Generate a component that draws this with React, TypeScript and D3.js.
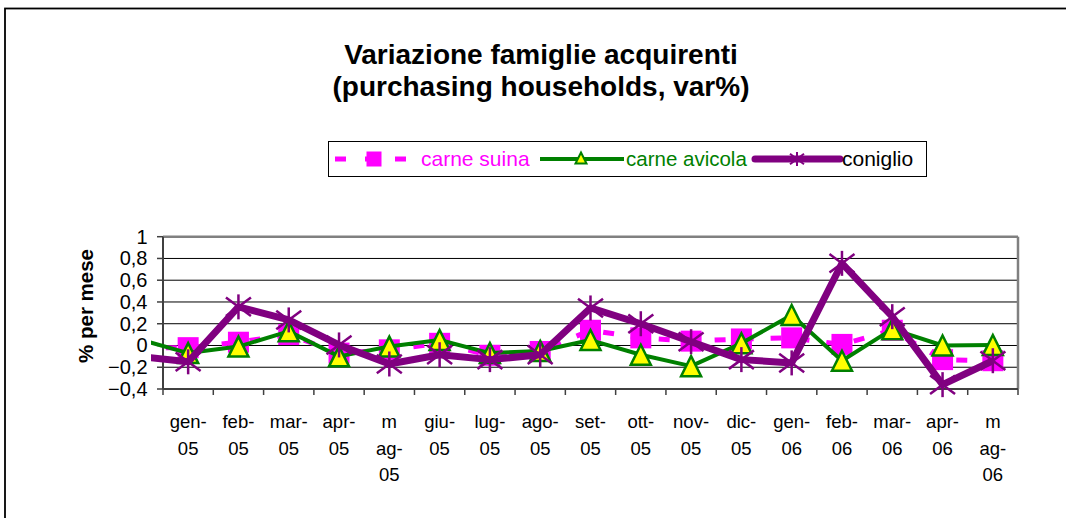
import * as d3 from "d3"

// months on the category axis
const categories = ["gen-05", "feb-05", "mar-05", "apr-05", "mag-05", "giu-05", "lug-05", "ago-05", "set-05", "ott-05", "nov-05", "dic-05", "gen-06", "feb-06", "mar-06", "apr-06", "mag-06"]
const tickLabels = [
    ["gen-", "05"], ["feb-", "05"], ["mar-", "05"], ["apr-", "05"], ["m", "ag-", "05"],
    ["giu-", "05"], ["lug-", "05"], ["ago-", "05"], ["set-", "05"], ["ott-", "05"],
    ["nov-", "05"], ["dic-", "05"], ["gen-", "06"], ["feb-", "06"], ["mar-", "06"],
    ["apr-", "06"], ["m", "ag-", "06"],
]

const yTicks = [1, 0.8, 0.6, 0.4, 0.2, 0, -0.2, -0.4]

const carneSuina = [-0.02, 0.03, 0.1, -0.07, -0.04, 0.02, -0.09, -0.055, 0.14, 0.07, 0.04, 0.06, 0.07, 0.01, 0.14, -0.13, -0.14]
const carneAvicola = [-0.07, -0.01, 0.13, -0.1, -0.01, 0.05, -0.07, -0.05, 0.05, -0.085, -0.19, 0.02, 0.28, -0.14, 0.15, 0.0, 0.005]
const coniglio = [-0.15, 0.355, 0.235, 0.005, -0.17, -0.085, -0.13, -0.085, 0.345, 0.2, 0.035, -0.13, -0.16, 0.755, 0.265, -0.36, -0.14]

// dic-04 values: only the segment leading in from the left edge is visible
const dic04 = [-0.02, 0.06, -0.1]

const seriesNames = ["carne suina", "carne avicola", "coniglio"]
const seriesValues = [carneSuina, carneAvicola, coniglio]

const W = 1066
const H = 518
const FONT = "'Liberation Sans', Arial, Helvetica, sans-serif"
const PINK = "#ff00ff"
const GREEN = "#008000"
const PURPLE = "#800080"
const YELLOW = "#ffff00"

const plot = { left: 163, right: 1018, top: 236.7, bottom: 389 }

const Square = ({ x, y, s }: { x: number; y: number; s: number }) => (
    <rect x={x - s / 2} y={y - s / 2} width={s} height={s} fill={PINK} />
)

const Triangle = ({ x, y, s, sw }: { x: number; y: number; s: number; sw: number }) => (
    <path
        d={`M${x},${y - s / 2}L${x + s / 2},${y + s / 2}L${x - s / 2},${y + s / 2}Z`}
        fill={YELLOW}
        stroke={GREEN}
        strokeWidth={sw}
        strokeLinejoin="miter"
    />
)

const Star = ({ x, y, s, sw }: { x: number; y: number; s: number; sw: number }) => (
    <g stroke={PURPLE} strokeWidth={sw}>
        <line x1={x} y1={y - s / 2} x2={x} y2={y + s / 2} />
        <line x1={x - s / 2} y1={y - s * 0.37} x2={x + s / 2} y2={y + s * 0.37} />
        <line x1={x - s / 2} y1={y + s * 0.37} x2={x + s / 2} y2={y - s * 0.37} />
    </g>
)

export default function App() {
    const x = d3.scaleBand<string>().domain(categories).range([plot.left, plot.right]).paddingInner(0).paddingOuter(0)
    const y = d3.scaleLinear().domain([-0.4, 1]).range([plot.bottom, plot.top])
    const cx = (i: number) => (i < 0 ? (x(categories[0]) as number) - x.step() / 2 : (x(categories[i]) as number) + x.bandwidth() / 2)

    const line = d3.line<[number, number]>().x((d) => d[0]).y((d) => d[1])
    const pts = (si: number): [number, number][] => [
        [cx(-1), y(dic04[si])],
        ...seriesValues[si].map((v, i) => [cx(i), y(v)] as [number, number]),
    ]

    const boundaries = [...categories.map((c) => x(c) as number), plot.right]

    return (
        <svg width={W} height={H} style={{ position: "absolute", left: 0, top: 0, background: "#fff" }} fontFamily={FONT}>
            <defs>
                <clipPath id="plotclip">
                    <rect x={151} y={0} width={W - 151} height={H} />
                </clipPath>
            </defs>
            <rect x={5} y={8.5} width={1080} height={530} fill="#fff" stroke="#000" strokeWidth={1.8} />

            {/* title */}
            <text x={541} y={64} textAnchor="middle" fontSize={28} fontWeight="bold">Variazione famiglie acquirenti</text>
            <text x={541} y={96} textAnchor="middle" fontSize={28} fontWeight="bold">(purchasing households, var%)</text>

            {/* legend */}
            <rect x={328.5} y={141.5} width={598} height={35} fill="#fff" stroke="#000" strokeWidth={1} />
            <line x1={335} x2={409} y1={159} y2={159} stroke={PINK} strokeWidth={5} strokeDasharray="11,19" />
            <Square x={374} y={159} s={15} />
            <text x={421} y={166} fontSize={21} fill={PINK}>{seriesNames[0]}</text>
            <line x1={540} x2={624} y1={159} y2={159} stroke={GREEN} strokeWidth={4} />
            <Triangle x={581} y={158} s={11} sw={2} />
            <text x={626} y={166} fontSize={20.5} fill={GREEN}>{seriesNames[1]}</text>
            <line x1={755} x2={840} y1={159} y2={159} stroke={PURPLE} strokeWidth={7} strokeLinecap="round" />
            <Star x={797} y={159} s={14} sw={2} />
            <text x={842} y={166} fontSize={21} fill="#000">{seriesNames[2]}</text>

            {/* gridlines */}
            {yTicks.filter((t) => t > -0.4 && t < 1).map((t) => (
                <line key={t} x1={plot.left} x2={plot.right} y1={y(t)} y2={y(t)} stroke="#000" strokeWidth={1} />
            ))}
            {/* plot border */}
            <line x1={plot.left} x2={plot.right} y1={plot.top} y2={plot.top} stroke="#808080" strokeWidth={2.5} />
            <line x1={plot.right} x2={plot.right} y1={plot.top} y2={plot.bottom} stroke="#808080" strokeWidth={2.5} />

            {/* y axis */}
            <line x1={plot.left} x2={plot.left} y1={plot.top} y2={plot.bottom} stroke="#404040" strokeWidth={2} />
            {yTicks.map((t) => (
                <g key={t}>
                    <line x1={plot.left - 6} x2={plot.left} y1={y(t)} y2={y(t)} stroke="#404040" strokeWidth={1.5} />
                    <text x={147.5} y={y(t) + 7} textAnchor="end" fontSize={20}>
                        {d3.format("")(t).replace(".", ",")}
                    </text>
                </g>
            ))}
            <text transform={`translate(93,306) rotate(-90)`} textAnchor="middle" fontSize={20.5} fontWeight="bold">% per mese</text>

            {/* x axis */}
            <line x1={plot.left} x2={plot.right} y1={plot.bottom} y2={plot.bottom} stroke="#404040" strokeWidth={2} />
            {boundaries.map((b, i) => (
                <line key={i} x1={b} x2={b} y1={plot.bottom} y2={plot.bottom + 6} stroke="#404040" strokeWidth={1.5} />
            ))}
            {tickLabels.map((lines, i) => (
                <text key={i} textAnchor="middle" fontSize={18.5}>
                    {lines.map((l, j) => (
                        <tspan key={j} x={cx(i)} y={428 + j * 26.5}>{l}</tspan>
                    ))}
                </text>
            ))}

            {/* series */}
            <g clipPath="url(#plotclip)">
                <path d={line(pts(0)) as string} fill="none" stroke={PINK} strokeWidth={5} strokeDasharray="11,17" />
                {carneSuina.map((v, i) => <Square key={i} x={cx(i)} y={y(v)} s={21} />)}
                <path d={line(pts(1)) as string} fill="none" stroke={GREEN} strokeWidth={4} strokeLinejoin="round" />
                {carneAvicola.map((v, i) => <Triangle key={i} x={cx(i)} y={y(v)} s={20} sw={2.5} />)}
                <path d={line(pts(2)) as string} fill="none" stroke={PURPLE} strokeWidth={7} strokeLinejoin="round" />
                {coniglio.map((v, i) => <Star key={i} x={cx(i)} y={y(v)} s={25} sw={2.5} />)}
            </g>
        </svg>
    )
}
